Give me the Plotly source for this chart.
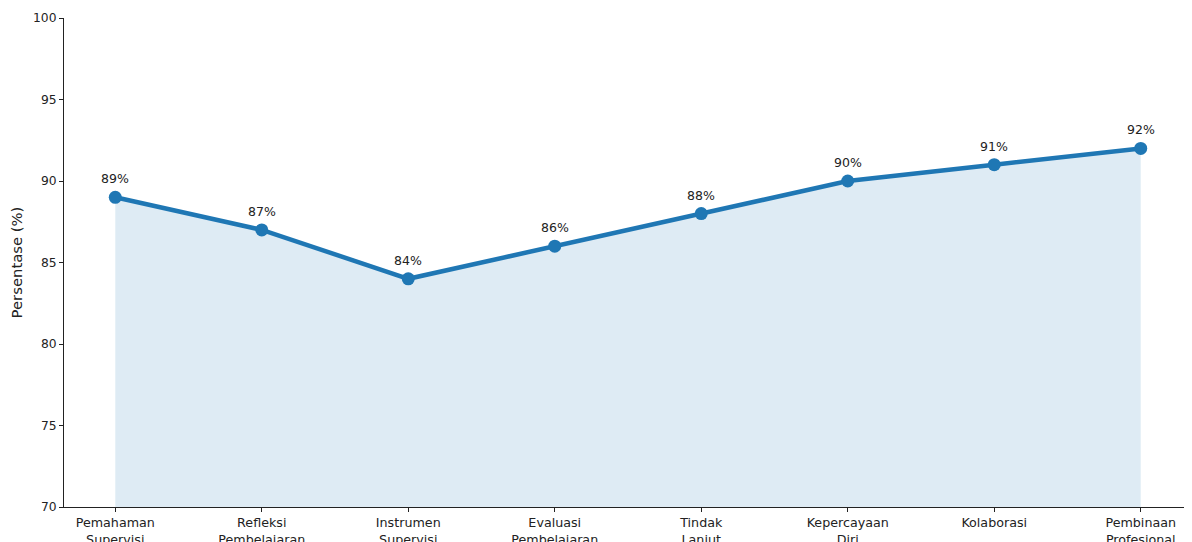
import plotly.graph_objects as go

categories = ["Pemahaman<br>Supervisi", "Refleksi<br>Pembelajaran", "Instrumen<br>Supervisi",
              "Evaluasi<br>Pembelajaran", "Tindak<br>Lanjut", "Kepercayaan<br>Diri",
              "Kolaborasi", "Pembinaan<br>Profesional"]
values = [89, 87, 84, 86, 88, 90, 91, 92]
y_ticks = [70, 75, 80, 85, 90, 95, 100]

x_idx = list(range(len(categories)))
blue = "#1f77b4"
font = "DejaVu Sans"
ink = "#222"

fig = go.Figure()
fig.add_trace(go.Scatter(
    x=x_idx, y=values, mode="lines+markers",
    line=dict(color=blue, width=4.5),
    marker=dict(color=blue, size=13),
    fill="tozeroy", fillcolor="rgba(31,119,180,0.15)",
    showlegend=False, hoverinfo="skip",
))

for xi, v in zip(x_idx, values):
    fig.add_annotation(x=xi, y=v, text=f"{v}%", showarrow=False,
                       yanchor="bottom", yshift=9,
                       font=dict(family=font, size=12.5, color=ink))

# page body has an 8px margin; size the figure to fill the rest of the window
fig.update_layout(
    width=1184, height=534,
    margin=dict(l=56, r=0, t=10, b=35),
    plot_bgcolor="white", paper_bgcolor="white",
    font=dict(family=font, size=12, color=ink),
)
fig.update_xaxes(
    range=[-0.35, len(categories) - 1 + 0.35],
    tickmode="array", tickvals=x_idx, ticktext=categories,
    showgrid=False, zeroline=False, automargin=False,
    showline=True, linecolor=ink, linewidth=1,
    ticks="outside", ticklen=4, tickcolor=ink,
    tickfont=dict(family=font, size=12.7, color=ink),
)
fig.update_yaxes(
    range=[70, 100], tickvals=y_ticks,
    showgrid=False, zeroline=False, automargin=False,
    showline=True, linecolor=ink, linewidth=1,
    ticks="outside", ticklen=4, tickcolor=ink,
    tickfont=dict(family=font, size=12.3, color=ink),
    title=dict(text="Persentase (%)", font=dict(family=font, size=14.8, color=ink), standoff=6),
)

fig.write_html("out.html")
